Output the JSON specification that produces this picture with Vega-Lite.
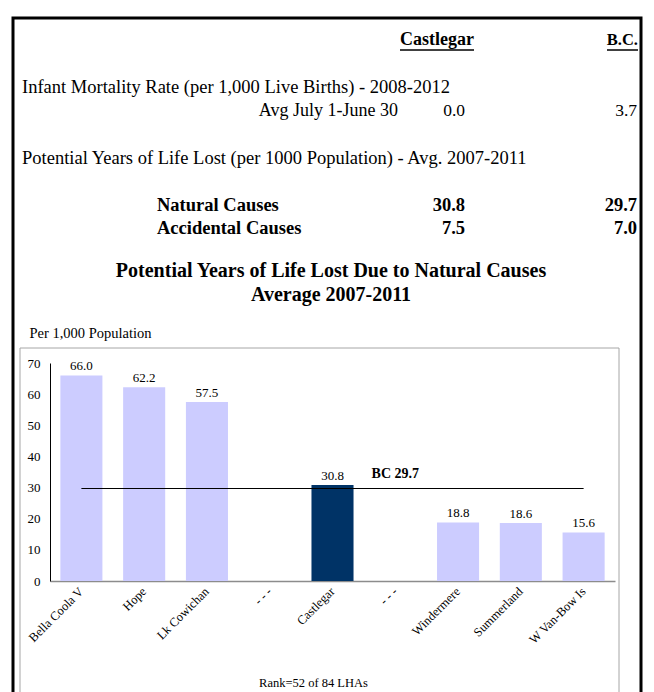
{
  "$schema": "https://vega.github.io/schema/vega-lite/v6.json",
  "width": 628,
  "height": 700,
  "autosize": {"type": "none"},
  "padding": {"left": 13, "top": 18, "right": 13, "bottom": 0},
  "background": "white",
  "config": {
    "view": {"stroke": "black", "strokeWidth": 3},
    "font": "Liberation Serif",
    "text": {"font": "Liberation Serif", "color": "black"},
    "axis": {"labelFont": "Liberation Serif", "titleFont": "Liberation Serif", "labelColor": "black", "titleColor": "black", "grid": false, "ticks": false}
  },
  "datasets": {
    "headers": [
      {"line": 0, "column": "Castlegar"},
      {"line": 0, "column": "B.C."}
    ],
    "sections": [
      {"line": 2, "heading": "Infant Mortality Rate (per 1,000 Live Births) - 2008-2012"},
      {"line": 5, "heading": "Potential Years of Life Lost (per 1000 Population) - Avg. 2007-2011"}
    ],
    "indicators": [
      {"line": 3, "group": "infant", "label": "Avg July 1-June 30", "castlegar": 0.0, "bc": 3.7},
      {"line": 7, "group": "pyll", "label": "Natural Causes", "castlegar": 30.8, "bc": 29.7},
      {"line": 8, "group": "pyll", "label": "Accidental Causes", "castlegar": 7.5, "bc": 7.0}
    ],
    "chartTitle": [
      {"line": 10, "text": "Potential Years of Life Lost Due to Natural Causes"},
      {"line": 11, "text": "Average 2007-2011"}
    ],
    "pyll": [
      {"lha": "Bella Coola V", "rate": 66.0, "group": "comparison"},
      {"lha": "Hope", "rate": 62.2, "group": "comparison"},
      {"lha": "Lk Cowichan", "rate": 57.5, "group": "comparison"},
      {"lha": "Castlegar", "rate": 30.8, "group": "selected"},
      {"lha": "Windermere", "rate": 18.8, "group": "comparison"},
      {"lha": "Summerland", "rate": 18.6, "group": "comparison"},
      {"lha": "W Van-Bow Is", "rate": 15.6, "group": "comparison"}
    ],
    "bcAverage": [
      {"from": "Bella Coola V", "to": "W Van-Bow Is", "rate": 29.7, "label": "BC 29.7"}
    ]
  },
  "resolve": {
    "scale": {"x": "independent", "y": "independent"},
    "axis": {"x": "independent", "y": "independent"}
  },
  "layer": [
    {
      "data": {"values": [{"panel": "chart"}]},
      "mark": {"type": "rect", "filled": false, "stroke": "#A6A6A6", "strokeWidth": 1},
      "encoding": {
        "x": {"datum": 0, "type": "quantitative", "scale": {"domain": [0, 1], "range": [7, 606]}, "axis": null},
        "x2": {"datum": 1},
        "y": {"datum": 0, "type": "quantitative", "scale": {"domain": [0, 1], "range": [330, 740]}, "axis": null},
        "y2": {"datum": 1}
      }
    },
    {
      "encoding": {
        "y": {"field": "line", "type": "ordinal", "scale": {"type": "point", "domain": [0, 1, 2, 3, 4, 5, 6, 7, 8, 9, 10, 11], "range": [22, 280.5], "padding": 0}, "axis": null}
      },
      "layer": [
        {
          "data": {"name": "headers"},
          "transform": [{"filter": "datum.column == 'Castlegar'"}],
          "mark": {"type": "text", "fontWeight": "bold", "fontSize": 18, "align": "center", "baseline": "middle", "dx": 107.5},
          "encoding": {
            "x": {"datum": "mid", "type": "nominal", "scale": {"type": "point", "domain": ["label", "mid", "bc"], "range": [9, 624], "padding": 0}, "axis": null},
            "text": {"field": "column"}
          }
        },
        {
          "data": {"name": "headers"},
          "transform": [{"filter": "datum.column == 'Castlegar'"}],
          "mark": {"type": "rule", "color": "black", "strokeWidth": 1.5, "xOffset": 70.5, "x2Offset": 144.5, "yOffset": 10},
          "encoding": {
            "x": {"datum": "mid", "type": "nominal", "scale": {"type": "point", "domain": ["label", "mid", "bc"], "range": [9, 624], "padding": 0}, "axis": null},
            "x2": {"datum": "mid"}
          }
        },
        {
          "data": {"name": "headers"},
          "transform": [{"filter": "datum.column == 'B.C.'"}],
          "mark": {"type": "text", "fontWeight": "bold", "fontSize": 16.5, "align": "right", "baseline": "middle", "dx": 1},
          "encoding": {
            "x": {"datum": "bc", "type": "nominal", "scale": {"type": "point", "domain": ["label", "mid", "bc"], "range": [9, 624], "padding": 0}, "axis": null},
            "text": {"field": "column"}
          }
        },
        {
          "data": {"name": "headers"},
          "transform": [{"filter": "datum.column == 'B.C.'"}],
          "mark": {"type": "rule", "color": "black", "strokeWidth": 1.5, "xOffset": -30, "x2Offset": 1, "yOffset": 10},
          "encoding": {
            "x": {"datum": "bc", "type": "nominal", "scale": {"type": "point", "domain": ["label", "mid", "bc"], "range": [9, 624], "padding": 0}, "axis": null},
            "x2": {"datum": "bc"}
          }
        },
        {
          "data": {"name": "sections"},
          "mark": {"type": "text", "fontSize": 18.5, "align": "left", "baseline": "middle"},
          "encoding": {
            "x": {"datum": "label", "type": "nominal", "scale": {"type": "point", "domain": ["label", "mid", "bc"], "range": [9, 624], "padding": 0}, "axis": null},
            "text": {"field": "heading"}
          }
        },
        {
          "data": {"name": "indicators"},
          "transform": [{"filter": "datum.group == 'infant'"}],
          "mark": {"type": "text", "fontSize": 18, "align": "right", "baseline": "middle", "dx": 376},
          "encoding": {
            "x": {"datum": "label", "type": "nominal", "scale": {"type": "point", "domain": ["label", "mid", "bc"], "range": [9, 624], "padding": 0}, "axis": null},
            "text": {"field": "label"}
          }
        },
        {
          "data": {"name": "indicators"},
          "transform": [{"filter": "datum.group == 'infant'"}],
          "mark": {"type": "text", "fontSize": 17.5, "align": "right", "baseline": "middle", "dx": 135.5},
          "encoding": {
            "x": {"datum": "mid", "type": "nominal", "scale": {"type": "point", "domain": ["label", "mid", "bc"], "range": [9, 624], "padding": 0}, "axis": null},
            "text": {"field": "castlegar", "format": ".1f"}
          }
        },
        {
          "data": {"name": "indicators"},
          "transform": [{"filter": "datum.group == 'infant'"}],
          "mark": {"type": "text", "fontSize": 17.5, "align": "right", "baseline": "middle"},
          "encoding": {
            "x": {"datum": "bc", "type": "nominal", "scale": {"type": "point", "domain": ["label", "mid", "bc"], "range": [9, 624], "padding": 0}, "axis": null},
            "text": {"field": "bc", "format": ".1f"}
          }
        },
        {
          "data": {"name": "indicators"},
          "transform": [{"filter": "datum.group == 'pyll'"}],
          "mark": {"type": "text", "fontSize": 18.5, "fontWeight": "bold", "align": "left", "baseline": "middle", "dx": 135},
          "encoding": {
            "x": {"datum": "label", "type": "nominal", "scale": {"type": "point", "domain": ["label", "mid", "bc"], "range": [9, 624], "padding": 0}, "axis": null},
            "text": {"field": "label"}
          }
        },
        {
          "data": {"name": "indicators"},
          "transform": [{"filter": "datum.group == 'pyll'"}],
          "mark": {"type": "text", "fontSize": 18.5, "fontWeight": "bold", "align": "right", "baseline": "middle", "dx": 135.5},
          "encoding": {
            "x": {"datum": "mid", "type": "nominal", "scale": {"type": "point", "domain": ["label", "mid", "bc"], "range": [9, 624], "padding": 0}, "axis": null},
            "text": {"field": "castlegar", "format": ".1f"}
          }
        },
        {
          "data": {"name": "indicators"},
          "transform": [{"filter": "datum.group == 'pyll'"}],
          "mark": {"type": "text", "fontSize": 18.5, "fontWeight": "bold", "align": "right", "baseline": "middle"},
          "encoding": {
            "x": {"datum": "bc", "type": "nominal", "scale": {"type": "point", "domain": ["label", "mid", "bc"], "range": [9, 624], "padding": 0}, "axis": null},
            "text": {"field": "bc", "format": ".1f"}
          }
        },
        {
          "data": {"name": "chartTitle"},
          "mark": {"type": "text", "fontSize": 20, "fontWeight": "bold", "align": "center", "baseline": "middle", "dx": 1.5, "dy": -4},
          "encoding": {
            "x": {"datum": "mid", "type": "nominal", "scale": {"type": "point", "domain": ["label", "mid", "bc"], "range": [9, 624], "padding": 0}, "axis": null},
            "text": {"field": "text"}
          }
        }
      ]
    },
    {
      "layer": [
        {
          "data": {"name": "pyll"},
          "mark": {"type": "bar"},
          "encoding": {
            "x": {
              "field": "lha", "type": "nominal", "title": "Rank=52 of 84 LHAs",
              "scale": {"domain": ["Bella Coola V", "Hope", "Lk Cowichan", "gap1", "Castlegar", "gap2", "Windermere", "Summerland", "W Van-Bow Is"], "range": [37, 602], "paddingInner": 0.33, "paddingOuter": 0.165},
              "axis": {
                "orient": "bottom", "offset": -137, "domainColor": "#8C8C8C", "domainWidth": 1.5,
                "labelAngle": -45, "labelAlign": "right", "labelBaseline": "middle", "labelPadding": 8, "labelFontSize": 12.5,
                "labelExpr": "indexof(datum.value, 'gap') == 0 ? '- - -' : datum.value",
                "titleFontSize": 12.5, "titleFontWeight": "normal", "titleX": 300, "titleY": 101, "titleAlign": "center", "titleBaseline": "middle"
              }
            },
            "y": {
              "field": "rate", "type": "quantitative", "title": "Per 1,000 Population",
              "scale": {"domain": [0, 70], "range": [563, 345], "nice": false},
              "axis": {
                "orient": "left", "offset": -37, "values": [0, 10, 20, 30, 40, 50, 60, 70],
                "domainColor": "black", "domainWidth": 1, "labelFontSize": 13, "labelPadding": 10,
                "titleAngle": 0, "titleAlign": "left", "titleBaseline": "middle", "titleX": -21, "titleY": 315,
                "titleFontSize": 14.5, "titleFontWeight": "normal"
              }
            },
            "color": {"field": "group", "type": "nominal", "scale": {"domain": ["selected", "comparison"], "range": ["#003366", "#CCCCFF"]}, "legend": null}
          }
        },
        {
          "data": {"name": "pyll"},
          "mark": {"type": "text", "fontSize": 13, "baseline": "alphabetic", "dy": -5},
          "encoding": {
            "x": {"field": "lha", "type": "nominal"},
            "y": {"field": "rate", "type": "quantitative"},
            "text": {"field": "rate", "format": ".1f"}
          }
        },
        {
          "data": {"name": "bcAverage"},
          "mark": {"type": "rule", "color": "black", "strokeWidth": 1.2},
          "encoding": {
            "x": {"field": "from", "type": "nominal", "bandPosition": 0.5},
            "x2": {"field": "to"},
            "y": {"field": "rate", "type": "quantitative"}
          }
        },
        {
          "data": {"name": "bcAverage"},
          "mark": {"type": "text", "fontSize": 14, "fontWeight": "bold", "baseline": "alphabetic", "dy": -11},
          "encoding": {
            "x": {"datum": "gap2", "type": "nominal"},
            "y": {"field": "rate", "type": "quantitative"},
            "text": {"field": "label"}
          }
        }
      ]
    }
  ]
}
